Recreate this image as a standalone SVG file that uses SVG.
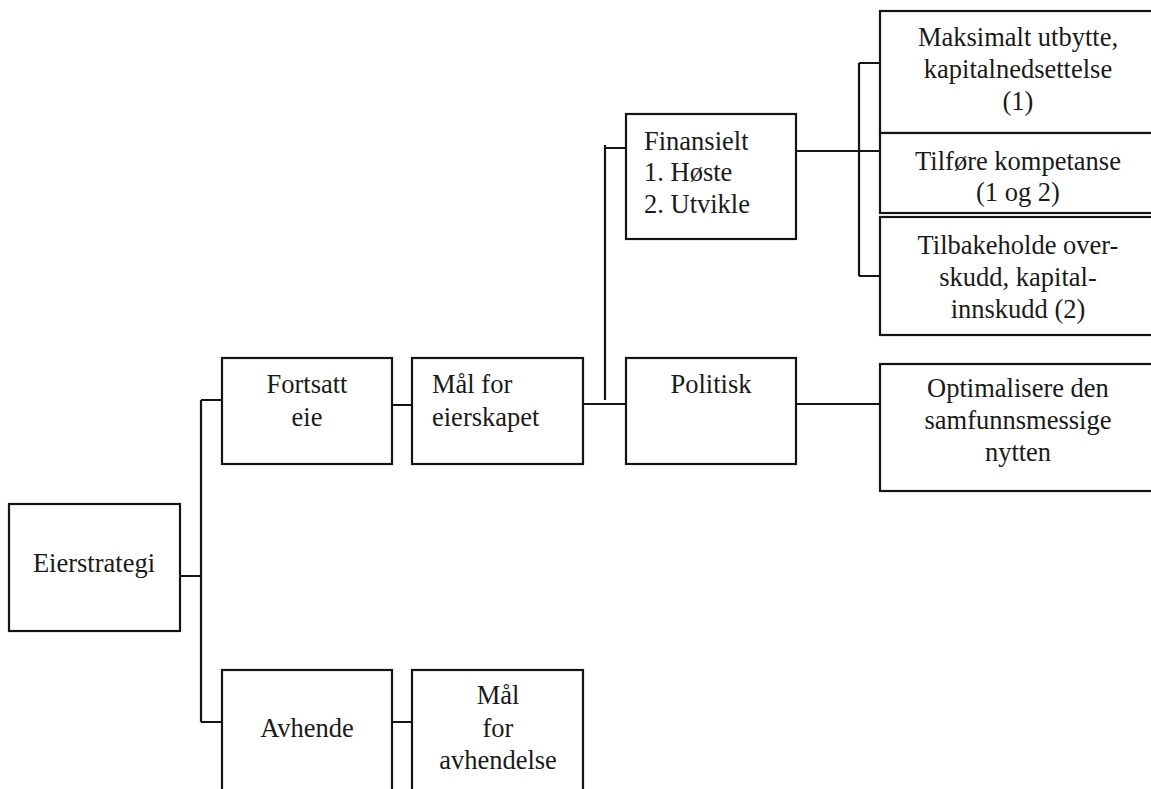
<svg xmlns="http://www.w3.org/2000/svg" width="1151" height="789" viewBox="0 0 1151 789">
  <style>
    .box { fill: #ffffff; stroke: #141414; stroke-width: 2.2; }
    .wire { fill: none; stroke: #141414; stroke-width: 2.2; }
    text { font-family: 'Liberation Serif', 'DejaVu Serif', serif; font-size: 26.5px; fill: #1a1a1a; }
    .c { text-anchor: middle; }
  </style>
  <rect width="1151" height="789" fill="#ffffff"/>

  <!-- connectors -->
  <g id="connectors">
    <path class="wire" d="M180,576 H201 M201,400 V722 M201,400 H222 M201,722 H222"/>
    <path class="wire" d="M392,405 H412 M392,722 H412"/>
    <path class="wire" d="M583,404 H626 M605,400 V145 M605,148 H626"/>
    <path class="wire" d="M796,151 H880 M859,63 V276 M859,63 H880 M859,276 H880"/>
    <path class="wire" d="M796,404 H880"/>
  </g>

  <g id="eierstrategi">
    <rect class="box" x="9" y="504" width="171" height="127"/>
    <text class="c" x="94" y="572">Eierstrategi</text>
  </g>

  <g id="fortsatt-eie">
    <rect class="box" x="222" y="358" width="170" height="106"/>
    <text class="c" x="307" y="393">Fortsatt</text>
    <text class="c" x="307" y="426">eie</text>
  </g>

  <g id="avhende">
    <rect class="box" x="222" y="670" width="170" height="140"/>
    <text class="c" x="307" y="737">Avhende</text>
  </g>

  <g id="maal-eierskapet">
    <rect class="box" x="412" y="358" width="171" height="106"/>
    <text x="432" y="393">Mål for</text>
    <text x="432" y="426">eierskapet</text>
  </g>

  <g id="maal-avhendelse">
    <rect class="box" x="412" y="670" width="171" height="140"/>
    <text class="c" x="498" y="704">Mål</text>
    <text class="c" x="498" y="737">for</text>
    <text class="c" x="498" y="769">avhendelse</text>
  </g>

  <g id="finansielt">
    <rect class="box" x="626" y="114" width="170" height="125"/>
    <text x="644" y="150">Finansielt</text>
    <text x="644" y="181">1. Høste</text>
    <text x="644" y="213">2. Utvikle</text>
  </g>

  <g id="politisk">
    <rect class="box" x="626" y="358" width="170" height="106"/>
    <text class="c" x="711" y="393">Politisk</text>
  </g>

  <g id="maksimalt-utbytte">
    <rect class="box" x="880" y="11" width="290" height="122"/>
    <text class="c" x="1018" y="46">Maksimalt utbytte,</text>
    <text class="c" x="1018" y="78">kapitalnedsettelse</text>
    <text class="c" x="1018" y="110">(1)</text>
  </g>

  <g id="tilfore-kompetanse">
    <rect class="box" x="880" y="133" width="290" height="80"/>
    <text class="c" x="1018" y="170">Tilføre kompetanse</text>
    <text class="c" x="1018" y="201">(1 og 2)</text>
  </g>

  <g id="tilbakeholde-overskudd">
    <rect class="box" x="880" y="217" width="290" height="118"/>
    <text class="c" x="1018" y="254">Tilbakeholde over-</text>
    <text class="c" x="1018" y="286">skudd, kapital-</text>
    <text class="c" x="1018" y="318">innskudd (2)</text>
  </g>

  <g id="optimalisere">
    <rect class="box" x="880" y="364" width="290" height="127"/>
    <text class="c" x="1018" y="397">Optimalisere den</text>
    <text class="c" x="1018" y="429">samfunnsmessige</text>
    <text class="c" x="1018" y="461">nytten</text>
  </g>
</svg>
